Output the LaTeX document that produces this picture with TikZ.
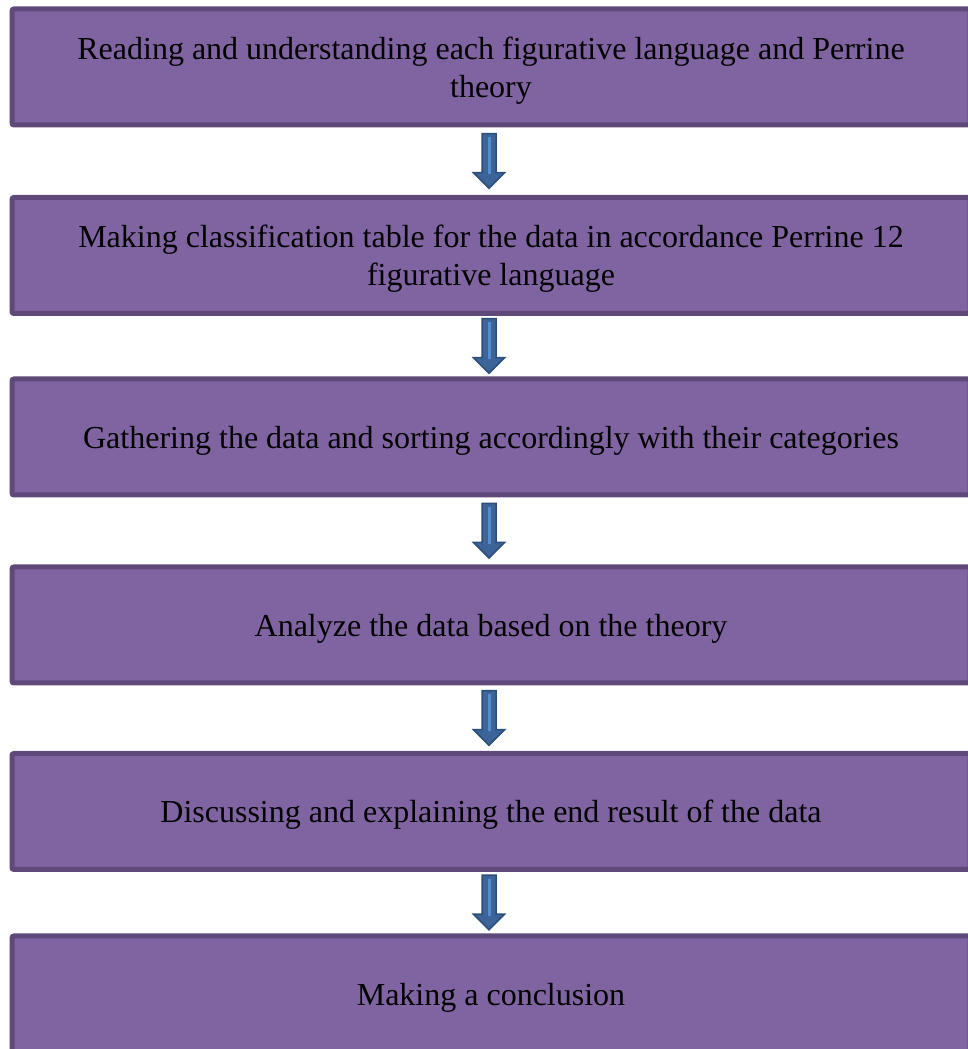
\documentclass[tikz,border=0pt]{standalone}
\usepackage{fontspec}
\setmainfont{Liberation Serif}
\usepackage{tikz}
\usetikzlibrary{
    positioning,
    calc
}
\definecolor{StepFill}{RGB}{128,100,162}
\definecolor{StepEdge}{RGB}{94,73,122}
\definecolor{ArrowFill}{RGB}{60,100,152}
\definecolor{ArrowEdge}{RGB}{44,78,122}
\definecolor{ArrowShine}{RGB}{84,140,208}

\begin{document}
\begin{tikzpicture}[
            x=1pt, y=1pt,
            font=\fontsize{32}{38}\selectfont,
            stepbox/.style={draw=StepEdge, fill=StepFill, line width=5pt,
                rounded corners=2pt, minimum width=958pt, minimum height=116pt,
                align=center, inner sep=0pt, text depth=0pt},
            pics/flowarrow/.style={code={
                \draw[ArrowEdge, fill=ArrowFill, line width=1.5pt, line join=miter]
                    (-7,27.5) -- (-7,-11.5) -- (-15.5,-11.5) -- (0,-27)
                    -- (15.5,-11.5) -- (7,-11.5) -- (7,27.5) -- cycle;
                \draw[ArrowShine, line width=3pt] (0,24) -- (0,-13);
            }},
        ]

        % Page frame
        \clip (0,0) rectangle (968,1049);
        \useasboundingbox (0,0) rectangle (968,1049);

        % Process steps
        \node[stepbox] (read) at (491,982) {Reading and understanding each figurative language and Perrine\\theory};
        \node[stepbox] (table) at (491,793.5) {Making classification table for the data in accordance Perrine 12\\figurative language};
        \node[stepbox] (gather) at (491,612) {Gathering the data and sorting accordingly with their categories};
        \node[stepbox] (analyze) at (491,424) {Analyze the data based on the theory};
        \node[stepbox] (discuss) at (491,237.5) {Discussing and explaining the end result of the data};
        \node[stepbox] (conclude) at (491,55) {Making a conclusion};

        % Block arrows between steps
        \pic at ($(read.south)!0.5!(table.north)+(-2,0)$) {flowarrow};
        \pic at ($(table.south)!0.5!(gather.north)+(-2,0)$) {flowarrow};
        \pic at ($(gather.south)!0.5!(analyze.north)+(-2,0)$) {flowarrow};
        \pic at ($(analyze.south)!0.5!(discuss.north)+(-2,0)$) {flowarrow};
        \pic at ($(discuss.south)!0.5!(conclude.north)+(-2,0)$) {flowarrow};
        \end{tikzpicture}
\end{document}
